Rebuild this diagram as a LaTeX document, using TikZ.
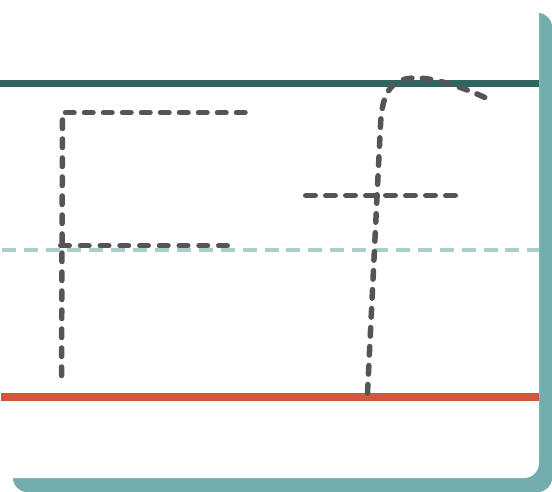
\documentclass[tikz,border=0pt]{standalone}
\begin{document}
\begin{tikzpicture}[x=1pt,y=-1pt,
  trace/.style={draw=traceGray,line width=5.5pt,line cap=round,dash pattern=on 8.5pt off 10.5pt},
  guide/.style={line width=#1}]
\definecolor{traceGray}{HTML}{555555}
\definecolor{shadowTeal}{HTML}{74ADAD}
\definecolor{topTeal}{HTML}{2F6663}
\definecolor{midTeal}{HTML}{A9CFCD}
\definecolor{baseRed}{HTML}{CF583F}
\useasboundingbox (0,0) rectangle (552,492);
\clip (0,0) rectangle (552,492);
\fill[white] (0,0) rectangle (552,492);
% shadow and card
\fill[shadowTeal,rounded corners=14pt] (13,13) rectangle (552,492);
\fill[white,rounded corners=15pt] (-40,-40) rectangle (539,478);
% guide lines
\draw[topTeal,line width=6.6pt] (0,83.3) -- (539,83.3);
\draw[midTeal,line width=4pt,dash pattern=on 14pt off 7.9pt] (1.7,250) -- (539,250);
\draw[baseRed,line width=7.3pt] (1,397) -- (539,397);
% letter F
\draw[trace] (65.5,112.7) -- (245,112.7);
\draw[trace] (62.5,120) -- (61.5,378);
\draw[trace,dash pattern=on 8.5pt off 11.25pt] (60.75,245.7) -- (227.25,245.7);
% letter f
\draw[trace] (367.5,393) -- (380.5,125) .. controls (382,90) and (393,78) .. (416,78) .. controls (436,78) and (465,88) .. (487,98.5);
\draw[trace,dash pattern=on 9.5pt off 10.5pt] (305.75,195.5) -- (455.25,195.5);
\end{tikzpicture}
\end{document}
